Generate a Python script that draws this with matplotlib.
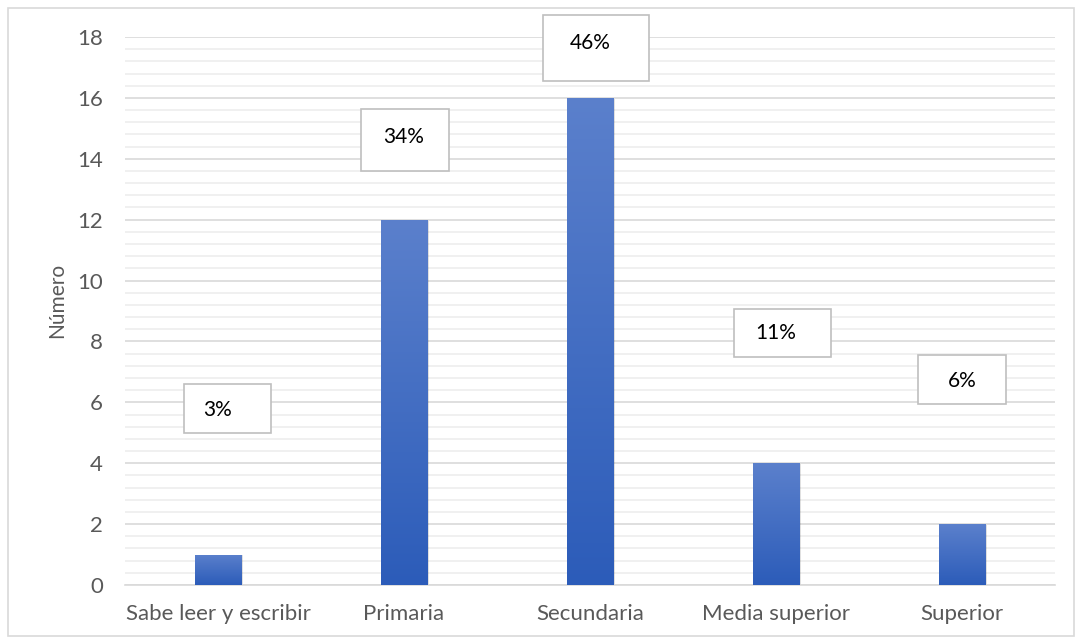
import numpy as np
import matplotlib
matplotlib.use("Agg")
import matplotlib.pyplot as plt
from matplotlib.patches import Rectangle
from matplotlib.colors import LinearSegmentedColormap

categories = ["Sabe leer y escribir", "Primaria", "Secundaria", "Media superior", "Superior"]
values = [1, 12, 16, 4, 2]
pct_labels = ["3%", "34%", "46%", "11%", "6%"]
y_ticks = [0, 2, 4, 6, 8, 10, 12, 14, 16, 18]

# label box layout (data units: bottom, top, left offset, right offset, text y)
box_bottom = [4.99, 13.60, 16.56, 7.49, 5.95]
box_top = [6.60, 15.64, 18.73, 9.07, 7.56]
box_left = [-0.183, -0.231, -0.253, -0.226, -0.237]
box_right = [0.285, 0.242, 0.317, 0.296, 0.237]
text_y = [5.75, 14.72, 17.81, 8.28, 6.70]

plt.rcParams['font.family'] = ['Lato', 'DejaVu Sans']

fig = plt.figure(figsize=(10.82, 6.44), dpi=100)
fig.patches.append(Rectangle((8/1082, 8/644), 1066/1082, 628/644, transform=fig.transFigure,
                             fill=False, edgecolor='#d9d9d9', linewidth=1.2))
ax = fig.add_axes([125/1082, 1-585/644, 930/1082, (585-37)/644])

x = np.arange(len(categories))

cmap = LinearSegmentedColormap.from_list("g", ["#2c5cb9", "#5b80cc"])
grad = np.linspace(0, 1, 256).reshape(-1, 1)
w = 0.25
for xi, v in zip(x, values):
    sh = Rectangle((xi - w/2 + 0.008, 0), w, v - 0.03, facecolor='#000000', alpha=0.12,
                   edgecolor='none', zorder=2)
    ax.add_patch(sh)
    r = Rectangle((xi - w/2, 0), w, v, facecolor='none', edgecolor='none', zorder=3)
    ax.add_patch(r)
    im = ax.imshow(grad, extent=(xi - w/2, xi + w/2, 0, v), origin='lower', cmap=cmap,
                   aspect='auto', zorder=3)
    im.set_clip_path(r)
ax.set_xlim(-0.5, len(categories)-0.5)
ax.set_ylim(0, 18)

ax.set_yticks(y_ticks)
ax.set_yticks(np.arange(0, 18.01, 0.4), minor=True)
ax.grid(axis='y', which='major', color='#d9d9d9', linewidth=1.2, zorder=0)
ax.grid(axis='y', which='minor', color='#eeeeee', linewidth=1.2, zorder=0)
ax.set_axisbelow(True)
ax.set_xticks(x)
ax.set_xticklabels(categories)
ax.tick_params(axis='both', which='both', length=0, labelsize=16, labelcolor='#595959')
ax.tick_params(axis='x', pad=14)
ax.tick_params(axis='y', pad=16)
for s in ['top', 'right', 'left']:
    ax.spines[s].set_visible(False)
ax.spines['bottom'].set_color('#d9d9d9')
ax.spines['bottom'].set_linewidth(1.2)
ax.set_ylabel("Número", fontsize=15, color='#595959')
ax.yaxis.set_label_coords(-0.062, 0.52)

for xi, lab, b, t, l, rr, ty in zip(x, pct_labels, box_bottom, box_top, box_left, box_right, text_y):
    ax.add_patch(Rectangle((xi + l, b), rr - l, t - b, facecolor='white', edgecolor='#bfbfbf',
                           linewidth=1.2, zorder=5, clip_on=False))
    ax.text(xi, ty, lab, ha='center', va='center', fontsize=15, color='#000000', zorder=6)

fig.savefig("out.png", dpi=100)
